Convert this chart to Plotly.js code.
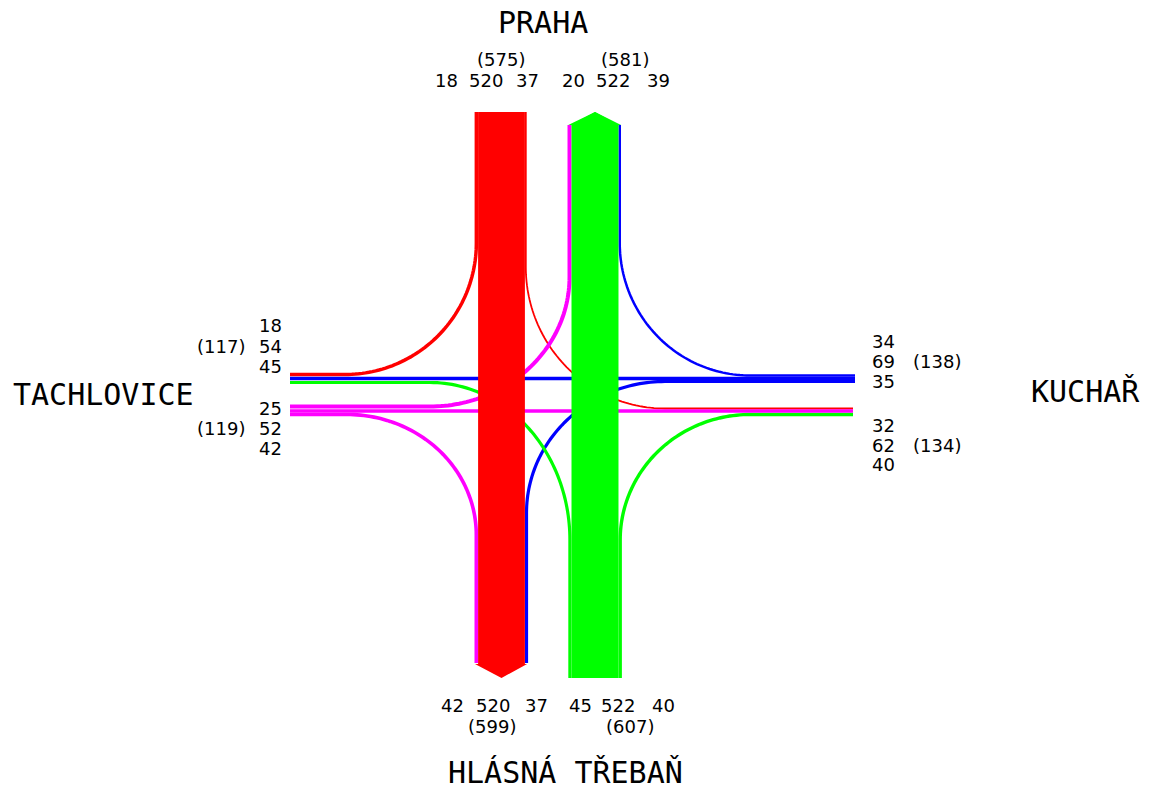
<!DOCTYPE html>
<html><head><meta charset="utf-8">
<script src="https://cdn.plot.ly/plotly-3.0.1.min.js"></script>
<style>html,body{margin:0;padding:0;background:#fff}#chart{width:1150px;height:791px}</style>
</head><body><div id="chart"></div>
<script>
// ---------------- data (vehicle counts) ----------------
const armNames = ['PRAHA', 'KUCHAŘ', 'HLÁSNÁ TŘEBAŇ', 'TACHLOVICE'];
// printed order: left-to-right (north/south arms), top-to-bottom (west/east arms)
const prahaOut  = [18, 520, 37];   // from Praha (southbound): right, straight, left
const prahaIn   = [20, 522, 39];   // into Praha (northbound)
const hlasnaIn  = [42, 520, 37];   // into Hlásná Třebaň (southbound)
const hlasnaOut = [45, 522, 40];   // from Hlásná Třebaň (northbound): left, straight, right
const tachIn    = [18, 54, 45];    // into Tachlovice (westbound)
const tachOut   = [25, 52, 42];    // from Tachlovice (eastbound): left, straight, right
const kucharOut = [34, 69, 35];    // from Kuchař (westbound): right, straight, left
const kucharIn  = [32, 62, 40];    // into Kuchař (eastbound)
const total = a => a.reduce((s, v) => s + v, 0);

// ---------------- layout constants (pixel space) ----------------
const RED = '#ff0000', GREEN = '#00ff00', BLUE = '#0000ff', MAG = '#ff00ff';
const SCALE = 0.09;                  // px per vehicle for the through bands
const RX = 501.5, GX = 595;          // band centre lines
const TOP = 112, BOT = 678, ARROW = 14;
const WEST = 290, EAST = 855;
const WB = 378.5, EB = 411;          // centre of westbound / eastbound rows
const rbw = prahaOut[1] * SCALE, gbw = hlasnaOut[1] * SCALE;
const rL = RX - rbw / 2, rR = RX + rbw / 2, gL = GX - gbw / 2, gR = GX + gbw / 2;

// line widths (style)
const W = {rR: 3.5, rL: 1.8, bR: 2.5, bT: 3.6, bL: 3.2, gL: 3.2, gR: 3.4, mL: 4, mT: 3.6, mR: 3.6};

function arc(cx, cy, rx, ry, a0, a1, n = 60) {
  const xs = [], ys = [];
  for (let i = 0; i <= n; i++) {
    const t = (a0 + (a1 - a0) * i / n) * Math.PI / 180;
    xs.push(cx + rx * Math.cos(t)); ys.push(cy + ry * Math.sin(t));
  }
  return [xs, ys];
}
function path(parts) {
  const x = [], y = [];
  parts.forEach(p => { x.push(...p[0]); y.push(...p[1]); });
  return {x, y};
}
const traces = [];
function line(p, color, width) {
  traces.push({type: 'scatter', mode: 'lines', x: p.x, y: p.y, line: {color, width, simplify: false},
               hoverinfo: 'skip', showlegend: false});
}
function poly(xs, ys, color) {
  traces.push({type: 'scatter', mode: 'lines', x: xs, y: ys, fill: 'toself', fillcolor: color,
               line: {width: 0, color}, hoverinfo: 'skip', showlegend: false});
}

// red: Praha -> Tachlovice (right turn)
(function () {
  const x0 = rL - W.rR / 2, y1 = WB - 4, cy = 243, cx = 345;
  line(path([[[x0, x0], [TOP, cy]], arc(cx, cy, x0 - cx, y1 - cy, 0, 90), [[WEST], [y1]]]), RED, W.rR);
})();
// red: Praha -> Kuchař (left turn)
(function () {
  const x0 = rR + W.rL / 2, y1 = EB - 2.5, cy = 267, cx = 665;
  line(path([[[x0, x0], [TOP, cy]], arc(cx, cy, cx - x0, y1 - cy, 180, 90), [[EAST - 2], [y1]]]), RED, W.rL);
})();
// blue: Kuchař -> Praha (right turn)
(function () {
  const y0 = WB - 3, cx = 750, cy = 243, x1 = gR + W.bR / 2;
  line(path([[[EAST, cx], [y0, y0]], arc(cx, cy, cx - x1, y0 - cy, 90, 180), [[x1], [TOP + ARROW - 1]]]), BLUE, W.bR);
})();
// blue: Kuchař -> Tachlovice (straight)
line({x: [EAST, WEST], y: [WB, WB]}, BLUE, W.bT);
// blue: Kuchař -> Hlásná (left turn)
(function () {
  const y0 = WB + 3, cx = 665, cy = 513, x1 = rR + W.bL / 2;
  line(path([[[EAST, cx], [y0, y0]], arc(cx, cy, cx - x1, cy - y0, 270, 180), [[x1], [BOT - ARROW - 1]]]), BLUE, W.bL);
})();
// green: Hlásná -> Tachlovice (left turn)
(function () {
  const x0 = gL - W.gL / 2, cx = 430, cy = 540, y1 = WB + 4;
  line(path([[[x0, x0], [BOT, cy]], arc(cx, cy, x0 - cx, cy - y1, 0, -90), [[WEST], [y1]]]), GREEN, W.gL);
})();
// green: Hlásná -> Kuchař (right turn)
(function () {
  const x0 = gR + W.gR / 2, cx = 750, cy = 540, y1 = EB + 3.5;
  line(path([[[x0, x0], [BOT, cy]], arc(cx, cy, cx - x0, cy - y1, 180, 270), [[EAST - 2], [y1]]]), GREEN, W.gR);
})();
// magenta: Tachlovice -> Praha (left turn)
(function () {
  const y0 = EB - 4.5, cx = 430, cy = 277, x1 = gL - W.mL / 2;
  line(path([[[WEST, cx], [y0, y0]], arc(cx, cy, x1 - cx, y0 - cy, 90, 0), [[x1], [TOP + ARROW - 1]]]), MAG, W.mL);
})();
// magenta: Tachlovice -> Kuchař (straight)
line({x: [WEST, EAST - 2], y: [EB, EB]}, MAG, W.mT);
// magenta: Tachlovice -> Hlásná (right turn)
(function () {
  const y0 = EB + 3.5, cx = 347, cy = 535, x1 = rL - W.mR / 2;
  line(path([[[WEST, cx], [y0, y0]], arc(cx, cy, x1 - cx, cy - y0, 270, 360), [[x1], [BOT - ARROW - 1]]]), MAG, W.mR);
})();

// --- through bands (width from the straight-ahead volume)
poly([rL, rR, rR, rR + 2.2, RX, rL - 3.1, rL, rL],
     [TOP, TOP, BOT - ARROW, BOT - ARROW, BOT, BOT - ARROW, BOT - ARROW, TOP], RED);
poly([gL, GX, gR, gR, gL, gL],
     [TOP + 13, TOP, TOP + 13, BOT, BOT, TOP + 13], GREEN);
poly([gL - 3.2, GX, gR + 2.5, gL - 3.2], [TOP + 13, TOP, TOP + 13, TOP + 13], GREEN);

// ---------------- texts ----------------
const NUMF = {family: 'DejaVu Sans, sans-serif', size: 18, color: '#000'};
const NAMEF = {family: 'DejaVu Sans Mono, monospace', size: 30, color: '#000'};
const ann = [];
function t(text, x, y, font, xanchor = 'center', yanchor = 'middle') {
  ann.push({text: String(text), x, y, xref: 'x', yref: 'y', showarrow: false, font, xanchor, yanchor, borderpad: 0});
}
t(armNames[0], 542.5, 22, NAMEF);
t(armNames[3], 103.5, 394, NAMEF);
t(armNames[1], 1085, 391, NAMEF);
t(armNames[2], 565.5, 791, NAMEF, 'center', 'bottom');

// north
[446, 486, 527.5].forEach((x, i) => t(prahaOut[i], x, 80.5, NUMF));
t('(' + total(prahaOut) + ')', 500.5, 59.5, NUMF);
[573, 612.5, 658].forEach((x, i) => t(prahaIn[i], x, 80.5, NUMF));
t('(' + total(prahaIn) + ')', 625, 59.5, NUMF);
// south
[452.5, 493, 536].forEach((x, i) => t(hlasnaIn[i], x, 705.5, NUMF));
t('(' + total(hlasnaIn) + ')', 491.7, 726.5, NUMF);
[580, 618, 663].forEach((x, i) => t(hlasnaOut[i], x, 705.5, NUMF));
t('(' + total(hlasnaOut) + ')', 630, 726.5, NUMF);
// west
[325, 346.5, 366.5].forEach((y, i) => t(tachIn[i], 283, y, NUMF, 'right'));
t('(' + total(tachIn) + ')', 221, 346.5, NUMF);
[408, 428.5, 448.5].forEach((y, i) => t(tachOut[i], 283, y, NUMF, 'right'));
t('(' + total(tachOut) + ')', 221, 428.5, NUMF);
// east
[341.5, 361.5, 381.5].forEach((y, i) => t(kucharOut[i], 871, y, NUMF, 'left'));
t('(' + total(kucharOut) + ')', 937, 361.5, NUMF);
[425, 445, 464.5].forEach((y, i) => t(kucharIn[i], 871, y, NUMF, 'left'));
t('(' + total(kucharIn) + ')', 937, 445, NUMF);

const layout = {
  width: 1150, height: 791, margin: {l: 0, r: 0, t: 0, b: 0},
  paper_bgcolor: '#fff', plot_bgcolor: '#fff',
  xaxis: {range: [0, 1150], visible: false, fixedrange: true},
  yaxis: {range: [791, 0], visible: false, fixedrange: true},
  showlegend: false, annotations: ann
};
Plotly.newPlot('chart', traces, layout, {staticPlot: true, displayModeBar: false});
</script></body></html>
